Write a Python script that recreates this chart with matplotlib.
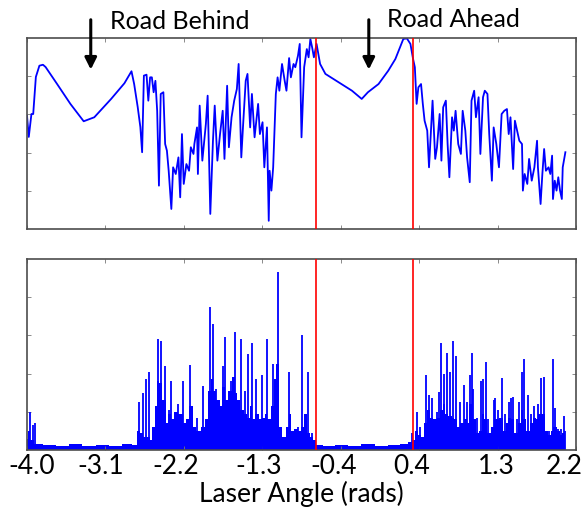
import matplotlib
matplotlib.use('Agg')
import matplotlib.pyplot as plt
from matplotlib.transforms import ScaledTranslation
import numpy as np

plt.rcParams['font.family'] = ['Lato', 'DejaVu Sans']

# laser range along the scan (normalised 0-100)
scan_angle = [-4.00, -3.98, -3.95, -3.93, -3.90, -3.86, -3.82, -3.79, -3.66, -3.51, -3.36, -3.24,
              -3.05, -2.90, -2.82, -2.79, -2.75, -2.72, -2.70, -2.68, -2.65, -2.63, -2.61, -2.59,
              -2.57, -2.55, -2.53, -2.51, -2.49, -2.46, -2.44, -2.42, -2.40, -2.37, -2.35, -2.32,
              -2.29, -2.27, -2.25, -2.23, -2.20, -2.17, -2.15, -2.12, -2.11, -2.08, -2.07, -2.05,
              -2.02, -1.98, -1.96, -1.93, -1.90, -1.88, -1.85, -1.82, -1.79, -1.77, -1.74, -1.72,
              -1.69, -1.66, -1.63, -1.61, -1.58, -1.56, -1.53, -1.51, -1.48, -1.46, -1.43, -1.39,
              -1.37, -1.34, -1.32, -1.29, -1.27, -1.26, -1.24, -1.22, -1.19, -1.17, -1.15, -1.12,
              -1.09, -1.07, -1.04, -1.02, -0.99, -0.97, -0.94, -0.92, -0.90, -0.87, -0.84, -0.82,
              -0.80, -0.78, -0.76, -0.73, -0.69, -0.63, -0.48, -0.33, -0.22, -0.15, -0.03, 0.08,
              0.16, 0.25, 0.29, 0.33, 0.36, 0.38, 0.40, 0.42, 0.45, 0.47, 0.49, 0.52,
              0.54, 0.56, 0.58, 0.61, 0.63, 0.66, 0.68, 0.70, 0.73, 0.75, 0.77, 0.80,
              0.82, 0.84, 0.87, 0.90, 0.92, 0.95, 0.97, 1.00, 1.02, 1.05, 1.07, 1.10,
              1.12, 1.15, 1.17, 1.20, 1.22, 1.25, 1.27, 1.30, 1.33, 1.36, 1.39, 1.42,
              1.44, 1.46, 1.49, 1.51, 1.53, 1.56, 1.59, 1.60, 1.62, 1.65, 1.67, 1.70,
              1.73, 1.76, 1.77, 1.80, 1.82, 1.84, 1.86, 1.89, 1.91, 1.93, 1.94, 1.96,
              1.98, 2.00, 2.02, 2.04, 2.05, 2.08]
scan_range = [59.3, 48.2, 60.2, 60.2, 79.6, 85.5, 86.0, 84.8, 75.9, 65.5, 56.4, 58.5,
              68.1, 76.3, 82.6, 75.9, 63.9, 53.4, 40.2, 80.3, 80.8, 67.2, 79.4, 79.4,
              71.6, 77.6, 61.9, 22.7, 70.7, 71.6, 44.5, 41.0, 30.5, 10.5, 32.3, 28.8,
              37.5, 16.6, 49.7, 23.6, 34.0, 30.5, 42.8, 39.3, 44.5, 53.2, 28.8, 64.6,
              35.8, 55.0, 69.8, 7.9, 46.2, 64.6, 35.8, 49.7, 61.9, 36.7, 75.0, 42.8,
              58.5, 67.2, 73.3, 86.4, 37.5, 54.1, 77.6, 81.2, 53.2, 70.7, 48.0, 65.5,
              49.7, 55.9, 32.3, 53.2, 4.3, 30.5, 20.1, 32.3, 70.7, 79.4, 72.4, 86.4,
              77.6, 72.4, 89.5, 79.4, 86.4, 84.7, 90.7, 96.9, 48.0, 84.7, 94.2, 89.9,
              99.5, 95.1, 89.9, 96.9, 86.4, 81.2, 76.8, 72.4, 68.1, 71.6, 75.9, 82.9,
              89.0, 99.5, 99.8, 96.9, 89.0, 84.7, 65.5, 74.2, 75.9, 65.5, 56.7, 51.5,
              32.3, 49.7, 67.2, 36.7, 42.8, 60.2, 35.8, 63.7, 67.2, 44.5, 27.1, 58.5,
              51.5, 61.9, 44.5, 39.3, 61.9, 51.5, 37.5, 24.5, 67.2, 72.4, 58.5, 69.0,
              39.3, 69.0, 72.4, 70.7, 49.7, 25.3, 53.2, 44.5, 32.3, 60.2, 61.9, 62.8,
              49.7, 58.5, 31.4, 56.7, 52.4, 46.2, 44.5, 20.1, 28.8, 23.6, 36.7, 25.3,
              32.3, 46.2, 32.3, 13.1, 28.8, 41.9, 30.5, 32.3, 28.8, 38.4, 15.7, 25.3,
              20.1, 27.1, 20.1, 15.7, 32.3, 40.2]

# bottom panel: dense base level and tall isolated spikes
base_angle = [-4.00, -3.98, -3.95, -3.89, -3.75, -3.60, -3.45, -3.30, -3.15, -3.00, -2.85, -2.78,
              -2.74, -2.70, -2.67, -2.63, -2.60, -2.58, -2.54, -2.52, -2.49, -2.45, -2.42, -2.39,
              -2.35, -2.32, -2.28, -2.25, -2.22, -2.18, -2.15, -2.11, -2.08, -2.05, -2.01, -1.98,
              -1.94, -1.91, -1.88, -1.84, -1.81, -1.78, -1.74, -1.71, -1.67, -1.64, -1.61, -1.57,
              -1.54, -1.50, -1.47, -1.44, -1.40, -1.37, -1.33, -1.30, -1.27, -1.23, -1.20, -1.17,
              -1.13, -1.10, -1.06, -1.03, -1.00, -0.96, -0.93, -0.89, -0.86, -0.82, -0.79, -0.76,
              -0.72, -0.60, -0.45, -0.30, -0.15, 0.00, 0.15, 0.28, 0.33, 0.36,
              0.37, 0.40, 0.44, 0.47, 0.50, 0.54, 0.57, 0.61, 0.64, 0.68, 0.71, 0.74,
              0.78, 0.81, 0.84, 0.88, 0.91, 0.95, 0.98, 1.01, 1.05, 1.08, 1.12, 1.15,
              1.18, 1.22, 1.25, 1.29, 1.32, 1.35, 1.39, 1.42, 1.45, 1.49, 1.52, 1.56,
              1.59, 1.62, 1.66, 1.69, 1.73, 1.76, 1.79, 1.83, 1.86, 1.90, 1.93, 1.96,
              2.00, 2.03, 2.06, 2.09]
base_level = [0.06, 0.10, 0.05, 0.03, 0.025, 0.02, 0.03, 0.02, 0.025, 0.02, 0.03, 0.025,
              0.10, 0.09, 0.07, 0.07, 0.05, 0.12, 0.23, 0.36, 0.35, 0.26, 0.14, 0.19,
              0.16, 0.20, 0.19, 0.19, 0.14, 0.16, 0.23, 0.12, 0.10, 0.10, 0.12, 0.16,
              0.31, 0.37, 0.31, 0.26, 0.23, 0.33, 0.26, 0.31, 0.38, 0.30, 0.26, 0.21,
              0.19, 0.17, 0.23, 0.16, 0.19, 0.16, 0.17, 0.19, 0.16, 0.23, 0.37, 0.45,
              0.12, 0.07, 0.12, 0.19, 0.10, 0.11, 0.10, 0.12, 0.19, 0.09, 0.07, 0.05,
              0.025, 0.02, 0.025, 0.02, 0.03, 0.02, 0.025, 0.03, 0.04, 0.05,
              0.05, 0.10, 0.08, 0.07, 0.14, 0.21, 0.17, 0.16, 0.17, 0.21, 0.24, 0.19,
              0.18, 0.17, 0.16, 0.12, 0.14, 0.16, 0.14, 0.24, 0.16, 0.09, 0.10, 0.19,
              0.16, 0.09, 0.12, 0.16, 0.16, 0.17, 0.10, 0.14, 0.17, 0.16, 0.09, 0.14,
              0.21, 0.16, 0.10, 0.14, 0.17, 0.16, 0.19, 0.19, 0.10, 0.08, 0.10, 0.12,
              0.10, 0.08, 0.09, 0.0]
spike_angle = [-3.97, -3.93, -3.91, -2.74, -2.69, -2.66, -2.62, -2.52, -2.49, -2.44, -2.40, -2.37,
               -2.29, -2.24, -2.16, -2.08, -2.01, -1.93, -1.90, -1.86, -1.79, -1.76, -1.70, -1.65,
               -1.58, -1.54, -1.50, -1.46, -1.41, -1.35, -1.29, -1.22, -1.17, -1.04, -0.94, -0.89,
               -0.83, -0.78,
               0.35, 0.40, 0.44, 0.51, 0.54, 0.57, 0.63, 0.65, 0.68, 0.71, 0.74, 0.78,
               0.81, 0.85, 0.89, 0.93, 0.97, 1.00, 1.02, 1.04, 1.08, 1.13, 1.15, 1.18,
               1.21, 1.27, 1.29, 1.32, 1.36, 1.40, 1.44, 1.47, 1.49, 1.53, 1.56, 1.59,
               1.61, 1.66, 1.69, 1.73, 1.77, 1.81, 1.84, 1.89, 1.94, 1.96, 2.00, 2.03,
               2.06, 2.08]
spike_height = [0.20, 0.13, 0.14, 0.25, 0.30, 0.37, 0.41, 0.58, 0.57, 0.44, 0.21, 0.36,
                0.24, 0.36, 0.445, 0.17, 0.335, 0.75, 0.66, 0.32, 0.44, 0.59, 0.36, 0.62,
                0.58, 0.31, 0.50, 0.56, 0.37, 0.39, 0.58, 0.45, 0.93, 0.41, 0.12, 0.60,
                0.41, 0.09,
                0.09, 0.20, 0.12, 0.39, 0.29, 0.27, 0.20, 0.305, 0.56, 0.40, 0.51, 0.41,
                0.57, 0.49, 0.25, 0.34, 0.25, 0.39, 0.51, 0.32, 0.17, 0.36, 0.37, 0.46,
                0.16, 0.26, 0.27, 0.21, 0.375, 0.19, 0.25, 0.27, 0.28, 0.16, 0.25, 0.41,
                0.475, 0.29, 0.19, 0.23, 0.24, 0.375, 0.38, 0.10, 0.475, 0.22, 0.11, 0.11,
                0.18, 0.10]

road_edges = [-0.74, 0.355]
tick_pos = np.linspace(-4.0, 2.2, 8)
tick_labels = ['-4.0', '-3.1', '-2.2', '-1.3', '-0.4', '0.4', '1.3', '2.2']
# the labels in the original sit a little off their ticks (pixels)
label_shift = [5, -5, -8, -4, -7, -7, -1, -12]

BLUE = '#0000ff'
EDGE = '#4d4d4d'


def style_axes(ax, ymax):
    ax.set_xlim(-4.0, 2.2)
    ax.set_ylim(0, ymax)
    ax.set_xticks(tick_pos)
    ax.set_yticks(np.arange(1, 5) * ymax / 5)
    ax.set_yticklabels([])
    ax.tick_params(direction='in', length=3, width=0.6, color='#777777',
                   top=True, right=True)
    for sp in ax.spines.values():
        sp.set_color(EDGE)
        sp.set_linewidth(1.2)
    for x in road_edges:
        ax.axvline(x, color='red', lw=1.2, zorder=3)


fig = plt.figure(figsize=(5.82, 5.08), dpi=100)
ax_top = fig.add_axes([0.0464, 0.5492, 0.9433, 0.376])
ax_bot = fig.add_axes([0.0464, 0.1142, 0.9433, 0.376])

# top: range profile
ax_top.plot(scan_angle, scan_range, color=BLUE, lw=1.3)
style_axes(ax_top, 100)
ax_top.set_xticklabels([])

arrow = dict(arrowstyle='-|>,head_width=0.35,head_length=0.7', color='black', lw=2.2)
ax_top.annotate('', xy=(-3.28, 82), xytext=(-3.28, 111), arrowprops=arrow, annotation_clip=False)
ax_top.annotate('', xy=(-0.14, 82), xytext=(-0.14, 111), arrowprops=arrow, annotation_clip=False)
ax_top.text(-3.06, 104.5, 'Road Behind', fontsize=18, ha='left', va='baseline', clip_on=False)
ax_top.text(0.06, 106, 'Road Ahead', fontsize=18, ha='left', va='baseline', clip_on=False)

# bottom: spikes over a dense base
ax_bot.fill_between(base_angle, 0, base_level, step='mid', color=BLUE, lw=0)
ax_bot.vlines(spike_angle, 0, spike_height, color=BLUE, lw=1.3)
style_axes(ax_bot, 1.0)
ax_bot.set_xticklabels(tick_labels, fontsize=19)
ax_bot.tick_params(axis='x', pad=3)
for lab, dx in zip(ax_bot.get_xticklabels(), label_shift):
    lab.set_transform(lab.get_transform() + ScaledTranslation(dx / 100, 0, fig.dpi_scale_trans))
ax_bot.set_xlabel('Laser Angle (rads)', fontsize=19, labelpad=1)

fig.savefig('out.png', dpi=100)
